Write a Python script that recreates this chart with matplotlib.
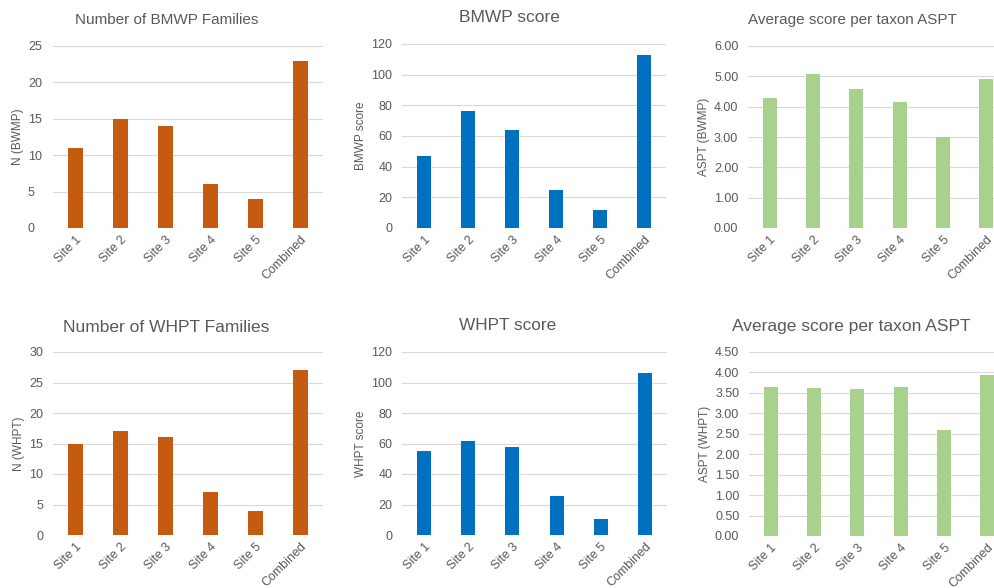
import matplotlib.pyplot as plt
from matplotlib.ticker import FormatStrFormatter

sites = ["Site 1", "Site 2", "Site 3", "Site 4", "Site 5", "Combined"]

bmwp_families = [11, 15, 14, 6, 4, 23]
bmwp_score = [47, 76, 64, 25, 12, 113]
bmwp_aspt = [4.27, 5.07, 4.57, 4.17, 3.00, 4.91]

whpt_families = [15, 17, 16, 7, 4, 27]
whpt_score = [55, 61.5, 57.5, 25.5, 10.4, 106.5]
whpt_aspt = [3.65, 3.62, 3.59, 3.65, 2.60, 3.94]

ORANGE = "#C55A11"
BLUE = "#0070C0"
GREEN = "#A9D18E"
GRID = "#D9D9D9"
TEXT = "#595959"

W, H = 995, 588
fig = plt.figure(figsize=(W / 100, H / 100), dpi=100)
plt.rcParams["font.family"] = ["Liberation Sans", "DejaVu Sans"]

# panel specs: (values, color, title, ylabel, ymax, ystep, fmt, box px, title pos px, title size, ypad, tick align)
panels = [
    (bmwp_families, ORANGE, "Number of BMWP Families", "N (BWMP)", 25, 5, "%d",
     (53, 46, 323, 228), (167, 20), 11, 18, "left"),
    (bmwp_score, BLUE, "BMWP score", "BMWP score", 120, 20, "%d",
     (402, 44, 666, 228), (509, 18), 12.5, 7, "right"),
    (bmwp_aspt, GREEN, "Average score per taxon ASPT", "ASPT (BWMP)", 6, 1, "%.2f",
     (748, 46, 1008, 228), (852, 20), 11, 7, "right"),
    (whpt_families, ORANGE, "Number of WHPT Families", "N (WHPT)", 30, 5, "%d",
     (53, 352, 323, 535), (166, 327), 12.5, 7, "right"),
    (whpt_score, BLUE, "WHPT score", "WHPT score", 120, 20, "%d",
     (402, 352, 667, 535), (508, 326), 12.4, 7, "right"),
    (whpt_aspt, GREEN, "Average score per taxon ASPT", "ASPT (WHPT)", 4.5, 0.5, "%.2f",
     (749, 352, 1009, 536), (851, 327), 12.5, 7, "right"),
]

for vals, color, title, ylabel, ymax, ystep, fmt, box, tpos, tsize, pad, align in panels:
    x0, y0, x1, y1 = box
    ax = fig.add_axes([x0 / W, 1 - y1 / H, (x1 - x0) / W, (y1 - y0) / H])
    ax.bar(range(len(sites)), vals, width=0.32, color=color, zorder=3)
    ax.set_xlim(-0.5, len(sites) - 0.5)
    ax.set_ylim(0, ymax)
    n = int(round(ymax / ystep))
    ax.set_yticks([i * ystep for i in range(n + 1)])
    ax.yaxis.set_major_formatter(FormatStrFormatter(fmt))
    ax.grid(axis="y", color=GRID, linewidth=0.8, zorder=0)
    ax.set_axisbelow(True)
    for s in ["top", "right", "left", "bottom"]:
        ax.spines[s].set_visible(False)
    ax.set_xticks(range(len(sites)))
    ax.set_xticklabels(sites, rotation=45, ha="right", rotation_mode="anchor")
    ax.tick_params(axis="both", length=0, labelsize=9, labelcolor=TEXT)
    ax.tick_params(axis="y", pad=pad)
    ax.tick_params(axis="x", pad=4)
    if align == "left":
        # first chart has its y labels flush left in the source
        for lbl in ax.get_yticklabels():
            lbl.set_horizontalalignment("left")
    ax.set_ylabel(ylabel, fontsize=8.5, color=TEXT, labelpad=3)
    if align == "left":
        ax.yaxis.set_label_coords(-(53 - 18) / (x1 - x0), 0.5)
        ax.yaxis.label.set_va("center")
    fig.text(tpos[0] / W, 1 - tpos[1] / H, title, ha="center", va="center",
             fontsize=tsize, color=TEXT)

fig.savefig("out.png", dpi=100, facecolor="white")
